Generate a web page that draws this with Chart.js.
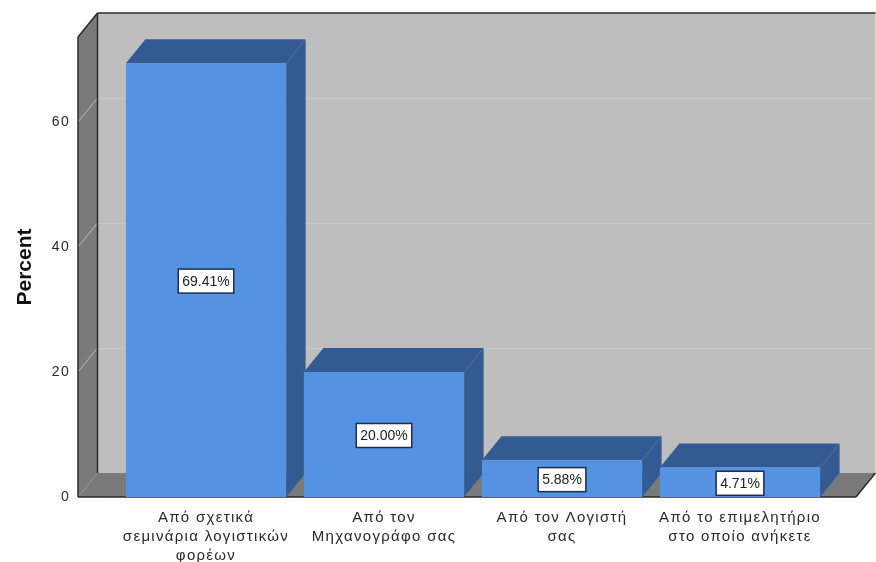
<!DOCTYPE html>
<html>
<head>
<meta charset="utf-8">
<script src="https://cdn.jsdelivr.net/npm/chart.js@4"></script>
<style>
  html, body { margin: 0; padding: 0; background: #fff; }
  canvas { display: block; }
</style>
</head>
<body>
<canvas id="chart" width="876" height="562"></canvas>
<script>
const categories = [
  ['Από σχετικά', 'σεμινάρια λογιστικών', 'φορέων'],
  ['Από τον', 'Μηχανογράφο σας'],
  ['Από τον Λογιστή', 'σας'],
  ['Από το επιμελητήριο', 'στο οποίο ανήκετε']
];
const percentValues = [69.41, 20.0, 5.88, 4.71];
const axisTitle = 'Percent';

const DEPTH_X = 19.5;
const DEPTH_Y = 24;
const WALL_INSET_LEFT = 39;   // front edge of the side wall, left of the first category
const WALL_EXTRA_RIGHT = 27;  // front edge of the floor, right of the last category

function poly(ctx, pts, fill) {
  ctx.beginPath();
  pts.forEach((p, i) => i ? ctx.lineTo(p[0], p[1]) : ctx.moveTo(p[0], p[1]));
  ctx.closePath();
  ctx.fillStyle = fill;
  ctx.fill();
}

function line(ctx, x1, y1, x2, y2, color, width) {
  ctx.beginPath();
  ctx.moveTo(x1, y1);
  ctx.lineTo(x2, y2);
  ctx.strokeStyle = color;
  ctx.lineWidth = width;
  ctx.stroke();
}

// Walls, floor and the depth faces of the bars
const box3d = {
  id: 'box3d',
  beforeDraw(chart) {
    // reference text is spaced out, axis labels pick this up
    chart.ctx.letterSpacing = '1.3px';
  },
  beforeDatasetsDraw(chart) {
    const { ctx, chartArea: a, scales: { y } } = chart;
    const left = a.left - WALL_INSET_LEFT;
    const right = a.right + WALL_EXTRA_RIGHT;
    const top = a.top;
    const base = a.bottom;
    ctx.save();

    poly(ctx, [[left + DEPTH_X, top - DEPTH_Y], [right + DEPTH_X, top - DEPTH_Y], [right + DEPTH_X, base - DEPTH_Y], [left + DEPTH_X, base - DEPTH_Y]], '#bebebe');
    poly(ctx, [[left, top], [left + DEPTH_X, top - DEPTH_Y], [left + DEPTH_X, base - DEPTH_Y], [left, base]], '#7a7a7a');
    poly(ctx, [[left, base], [left + DEPTH_X, base - DEPTH_Y], [right + DEPTH_X, base - DEPTH_Y], [right, base]], '#7a7a7a');

    y.ticks.forEach(t => {
      if (t.value === 0) return;
      const py = y.getPixelForValue(t.value);
      line(ctx, left, py, left + DEPTH_X, py - DEPTH_Y, '#bcbcbc', 1);
      line(ctx, left + DEPTH_X, Math.round(py - DEPTH_Y) + 0.5, right + DEPTH_X, Math.round(py - DEPTH_Y) + 0.5, '#c9c9c9', 1);
    });

    line(ctx, left, top, left, base, '#2a2a2a', 1.5);
    line(ctx, left, top, left + DEPTH_X, top - DEPTH_Y, '#2a2a2a', 1.5);
    line(ctx, left + DEPTH_X, top - DEPTH_Y, right + DEPTH_X, top - DEPTH_Y, '#2a2a2a', 1.5);
    line(ctx, left + DEPTH_X, top - DEPTH_Y, left + DEPTH_X, base - DEPTH_Y, '#2a2a2a', 1.5);
    line(ctx, left, base, right, base, '#2a2a2a', 1.5);
    line(ctx, right, base, right + DEPTH_X, base - DEPTH_Y, '#2a2a2a', 1.5);

    chart.getDatasetMeta(0).data.forEach(bar => {
      const l = bar.x - bar.width / 2;
      const r = bar.x + bar.width / 2;
      poly(ctx, [[l, bar.y], [l + DEPTH_X, bar.y - DEPTH_Y], [r + DEPTH_X, bar.y - DEPTH_Y], [r, bar.y]], '#335b91');
      poly(ctx, [[r, bar.y], [r + DEPTH_X, bar.y - DEPTH_Y], [r + DEPTH_X, base - DEPTH_Y], [r, base]], '#335b91');
    });
    ctx.restore();
  },
  afterDatasetsDraw(chart) {
    const { ctx, chartArea: a } = chart;
    ctx.save();
    ctx.letterSpacing = '0px';
    ctx.font = '14px "Liberation Sans", Arial, sans-serif';
    ctx.textAlign = 'center';
    ctx.textBaseline = 'middle';
    chart.getDatasetMeta(0).data.forEach((bar, i) => {
      const text = percentValues[i].toFixed(2) + '%';
      const w = ctx.measureText(text).width + 8;
      const h = 24;
      const cy = (bar.y + a.bottom) / 2 + 1;
      ctx.fillStyle = '#fff';
      ctx.fillRect(bar.x - w / 2, cy - h / 2, w, h);
      ctx.strokeStyle = '#1f2d4d';
      ctx.lineWidth = 1.5;
      ctx.strokeRect(bar.x - w / 2, cy - h / 2, w, h);
      ctx.fillStyle = '#222';
      ctx.fillText(text, bar.x, cy + 1);
    });

    // axis title drawn here so it stays free of the label spacing
    ctx.translate(31, 267);
    ctx.rotate(-Math.PI / 2);
    ctx.font = 'bold 21px "Liberation Sans", Arial, sans-serif';
    ctx.textBaseline = 'alphabetic';
    ctx.fillStyle = '#111';
    ctx.fillText(axisTitle, 0, 0);
    ctx.restore();
  }
};

new Chart(document.getElementById('chart'), {
  type: 'bar',
  data: {
    labels: categories,
    datasets: [{
      data: percentValues,
      backgroundColor: '#5492e3',
      borderWidth: 0,
      categoryPercentage: 1,
      barPercentage: 0.9
    }]
  },
  options: {
    responsive: false,
    animation: false,
    layout: { padding: { top: 37, right: 47, bottom: 0, left: 0 } },
    plugins: { legend: { display: false }, tooltip: { enabled: false } },
    scales: {
      x: {
        grid: { display: false, drawTicks: false },
        border: { display: false },
        afterFit(scale) { scale.height = 65; scale.paddingLeft = 0; scale.paddingRight = 0; },
        ticks: {
          maxRotation: 0,
          autoSkip: false,
          padding: 11,
          color: '#2a2a2a',
          font: { family: '"Liberation Sans", Arial, sans-serif', size: 15, lineHeight: 1.27 }
        }
      },
      y: {
        min: 0,
        max: 73.6,
        grid: { display: false, drawTicks: false },
        border: { display: false },
        afterFit(scale) { scale.width = 117; scale.paddingTop = 0; scale.paddingBottom = 0; },
        ticks: {
          stepSize: 20,
          includeBounds: false,
          padding: 47,
          color: '#2a2a2a',
          font: { family: '"Liberation Sans", Arial, sans-serif', size: 14 }
        }
      }
    }
  },
  plugins: [box3d]
});
</script>
</body>
</html>
